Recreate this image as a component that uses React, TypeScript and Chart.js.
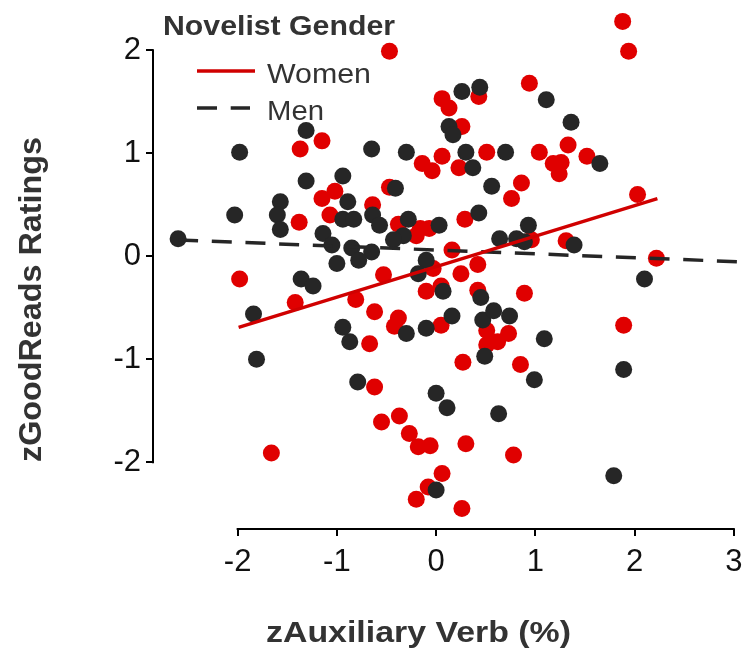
import { useEffect, useRef } from "react";
import { Chart, registerables } from "chart.js";

Chart.register(...registerables);

// ---- Data ----
const womenX = [-0.47, -1.15, -1.37, -0.14, -0.04, 0.06, 0.06, 0.13, 1.88, 1.94, 0.94, 0.43, 0.26, 1.33, 1.04, 1.52, 1.18, 1.26, 1.24, 0.51, 0.23, 0.86, -1.15, -1.02, -0.47, -1.38, -1.07, -0.64, -0.38, -0.16, -0.07, -0.2, -1.98, -0.03, -0.53, -0.1, -1.42, -0.81, -0.62, -0.38, -0.42, 0.05, -0.67, 0.29, 0.76, 2.03, 0.96, 1.31, 0.16, 2.22, 0.42, 0.25, 0.05, 0.42, 0.89, 0.51, 0.73, 0.51, 0.62, 1.89, -0.62, -0.55, -0.37, -0.27, -0.18, -0.06, -1.66, 0.06, -0.08, -0.2, 0.27, 0.85, 0.3, 0.78, 0.26];
const womenY = [1.99, 1.12, 1.04, 0.9, 0.83, 0.97, 1.53, 1.44, 2.28, 1.99, 1.68, 1.55, 1.26, 1.08, 1.01, 0.97, 0.9, 0.91, 0.8, 1.01, 0.86, 0.71, 0.56, 0.63, 0.67, 0.33, 0.4, 0.5, 0.31, 0.27, 0.27, 0.2, -0.22, -0.12, -0.18, -0.34, -0.45, -0.42, -0.54, -0.6, -0.68, -0.67, -0.85, 0.36, 0.56, 0.6, 0.16, 0.15, 0.06, -0.02, -0.08, -0.17, -0.29, -0.33, -0.36, -0.72, -0.75, -0.86, -0.83, -0.67, -1.27, -1.61, -1.55, -1.72, -1.85, -1.84, -1.91, -2.11, -2.24, -2.36, -1.03, -1.05, -1.82, -1.93, -2.45];

const menX = [-1.31, -1.98, -0.65, -0.3, 0.26, 0.44, 1.11, 1.36, 0.13, 0.17, 1.65, 0.7, 0.3, 0.37, -1.31, -0.94, -0.41, -0.89, -1.57, -1.6, -1.57, -2.03, -0.94, -0.83, -0.64, -0.57, -0.28, 0.03, -1.14, -1.05, -0.33, -0.43, -0.85, -0.65, -0.78, -2.6, -1.0, -1.36, -1.24, -0.1, -0.18, 0.07, -1.84, -0.3, -0.1, -0.94, -0.87, 0.56, 0.43, 0.93, 0.64, 0.81, 0.89, 1.39, 2.1, 0.45, 0.16, 0.47, 0.58, 0.74, 1.09, 0.49, -1.81, -0.79, 0.0, 0.11, 0.0, 0.99, 1.89, 0.63, 1.79];
const menY = [1.22, 1.01, 1.04, 1.01, 1.6, 1.64, 1.52, 1.3, 1.26, 1.18, 0.9, 1.01, 1.01, 0.86, 0.73, 0.78, 0.66, 0.53, 0.53, 0.4, 0.26, 0.4, 0.36, 0.36, 0.4, 0.3, 0.36, 0.3, 0.22, 0.11, 0.2, 0.16, 0.08, 0.04, -0.04, 0.17, -0.07, -0.22, -0.29, -0.04, -0.17, -0.34, -0.56, -0.75, -0.7, -0.69, -0.83, 0.68, 0.42, 0.3, 0.17, 0.17, 0.14, 0.11, -0.22, -0.4, -0.58, -0.62, -0.53, -0.58, -0.8, -0.97, -1.0, -1.22, -1.33, -1.47, -2.27, -1.2, -1.1, -1.53, -2.13];

// fitted regression lines (end points)
const womenFitX = [-1.99, 2.23];
const womenFitY = [-0.69, 0.56];
const menFitX = [-2.6, 3.06];
const menFitY = [0.158, -0.054];

const seriesNames = ["Women", "Men"];
const legendTitle = "Novelist Gender";
const xTitle = "zAuxiliary Verb (%)";
const yTitle = "zGoodReads Ratings";
const xTicks = [-2, -1, 0, 1, 2, 3];
const yTicks = [-2, -1, 0, 1, 2];
const xRange = [-2.853, 3.017];
const yRange = [-2.648, 2.405];

const RED = "#e00000";
const RED_LINE = "#d00000";
const DARK = "#262626";
const FONT = "'Liberation Sans', Arial, Helvetica, sans-serif";

const pts = (xs: number[], ys: number[]) => xs.map((x, i) => ({ x, y: ys[i] }));

function fitText(
  ctx: CanvasRenderingContext2D,
  text: string,
  x: number,
  y: number,
  font: string,
  width: number
) {
  ctx.font = font;
  const w = ctx.measureText(text).width;
  ctx.save();
  ctx.translate(x, y);
  ctx.scale(width / w, 1);
  ctx.textAlign = "left";
  ctx.textBaseline = "alphabetic";
  ctx.fillText(text, 0, 0);
  ctx.restore();
}

const decorPlugin = {
  id: "decor",
  beforeDatasetsDraw(chart: any) {
    const { ctx, chartArea, scales } = chart;
    const xs = scales.x;
    const ys = scales.y;
    ctx.save();
    // axis lines spanning only the tick range
    ctx.strokeStyle = "#000";
    ctx.lineWidth = 2;
    ctx.lineCap = "butt";
    ctx.beginPath();
    const yTop = ys.getPixelForValue(Math.max(...yTicks));
    const yBot = ys.getPixelForValue(Math.min(...yTicks));
    ctx.moveTo(chartArea.left, yTop - 1);
    ctx.lineTo(chartArea.left, yBot + 1);
    const xL = xs.getPixelForValue(Math.min(...xTicks));
    const xR = xs.getPixelForValue(Math.max(...xTicks));
    ctx.moveTo(xL - 1, chartArea.bottom);
    ctx.lineTo(xR + 1, chartArea.bottom);
    ctx.stroke();

    // axis titles
    ctx.fillStyle = "#333";
    fitText(ctx, xTitle, 266, 642, `bold 30px ${FONT}`, 305);

    ctx.font = `bold 32px ${FONT}`;
    const w = ctx.measureText(yTitle).width;
    ctx.save();
    ctx.translate(41, 299.5);
    ctx.rotate(-Math.PI / 2);
    ctx.scale(325 / w, 1);
    ctx.textAlign = "center";
    ctx.textBaseline = "alphabetic";
    ctx.fillText(yTitle, 0, 0);
    ctx.restore();

    // legend
    fitText(ctx, legendTitle, 163, 35, `bold 28px ${FONT}`, 232);
    const lines = chart.data.datasets.filter((d: any) => d.showLine);
    const rowY = [71, 108];
    const textY = [82.5, 119.5];
    const textW = [104, 57];
    lines.forEach((d: any, i: number) => {
      ctx.save();
      ctx.strokeStyle = d.borderColor;
      ctx.lineWidth = 3.5;
      ctx.setLineDash(d.borderDash || []);
      ctx.beginPath();
      ctx.moveTo(197, rowY[i]);
      ctx.lineTo(i === 0 ? 255 : 250, rowY[i]);
      ctx.stroke();
      ctx.restore();
      ctx.fillStyle = "#333";
      fitText(ctx, d.label, 267, textY[i], `27px ${FONT}`, textW[i]);
    });
    ctx.restore();
  },
};

export default function App() {
  const ref = useRef<HTMLCanvasElement>(null);

  useEffect(() => {
    if (!ref.current) return;
    const chart = new Chart(ref.current, {
      type: "scatter",
      data: {
        datasets: [
          {
            label: seriesNames[0],
            data: pts(womenFitX, womenFitY),
            showLine: true,
            borderColor: RED_LINE,
            borderWidth: 3.5,
            pointRadius: 0,
            borderCapStyle: "butt",
            order: 0,
          } as any,
          {
            label: seriesNames[1],
            data: pts(menFitX, menFitY),
            showLine: true,
            borderColor: DARK,
            borderWidth: 3.5,
            borderDash: [20, 13.7],
            pointRadius: 0,
            borderCapStyle: "butt",
            order: 0,
          } as any,
          {
            label: seriesNames[1] + " points",
            data: pts(menX, menY),
            backgroundColor: DARK,
            borderWidth: 0,
            pointRadius: 8.5,
            order: 1,
          },
          {
            label: seriesNames[0] + " points",
            data: pts(womenX, womenY),
            backgroundColor: RED,
            borderWidth: 0,
            pointRadius: 8.5,
            order: 2,
          },
        ],
      },
      options: {
        animation: false,
        responsive: false,
        clip: false as any,
        layout: { padding: { left: 0, right: 2, top: 5, bottom: 0 } },
        plugins: {
          legend: { display: false },
          tooltip: { enabled: false },
        },
        scales: {
          x: {
            type: "linear",
            min: xRange[0],
            max: xRange[1],
            afterBuildTicks: (s: any) => {
              s.ticks = xTicks.map((v) => ({ value: v }));
            },
            afterFit: (s: any) => {
              s.height = 119;
              s.paddingLeft = 0;
              s.paddingRight = 0;
            },
            grid: {
              display: true,
              drawOnChartArea: false,
              drawTicks: true,
              tickLength: 7,
              color: "#000",
              lineWidth: 2,
            },
            border: { display: false },
            ticks: {
              color: "#111",
              font: { family: FONT, size: 31 },
              padding: 8,
              autoSkip: false,
              maxRotation: 0,
              callback: (v: any) => String(v),
            },
          },
          y: {
            type: "linear",
            min: yRange[0],
            max: yRange[1],
            afterBuildTicks: (s: any) => {
              s.ticks = yTicks.map((v) => ({ value: v }));
            },
            afterFit: (s: any) => {
              s.width = 153;
              s.paddingTop = 0;
              s.paddingBottom = 0;
            },
            grid: {
              display: true,
              drawOnChartArea: false,
              drawTicks: true,
              tickLength: 7,
              color: "#000",
              lineWidth: 2,
            },
            border: { display: false },
            ticks: {
              color: "#111",
              font: { family: FONT, size: 31 },
              padding: 5,
              autoSkip: false,
              callback: (v: any) => String(v),
            },
          },
        },
      },
      plugins: [decorPlugin],
    });
    return () => chart.destroy();
  }, []);

  return (
    <div style={{ position: "absolute", left: 0, top: 0, width: 744, height: 648, background: "#fff" }}>
      <canvas ref={ref} width={744} height={648} style={{ display: "block" }} />
    </div>
  );
}
